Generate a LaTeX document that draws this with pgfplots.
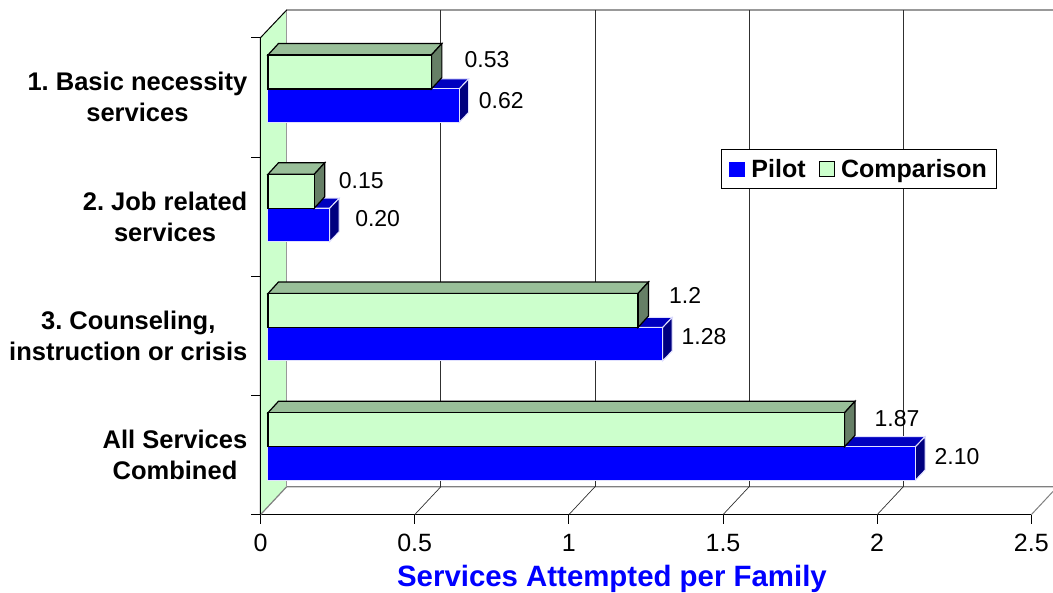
\documentclass[border=0pt]{standalone}
\usepackage{pgfplots}
\usepackage{fontspec}
\setmainfont{Liberation Sans}
\pgfplotsset{compat=1.18}
\frenchspacing
\definecolor{wall}{HTML}{CCFFCC}
\definecolor{cmptop}{HTML}{99BF99}
\definecolor{cmpside}{HTML}{667F66}
\definecolor{pilotfront}{HTML}{0000FF}
\definecolor{pilottop}{HTML}{0000BF}
\definecolor{pilotside}{HTML}{00007F}
\definecolor{pilotedge}{HTML}{E0E0FF}
\definecolor{wallgray}{HTML}{808080}
\definecolor{griddark}{HTML}{303030}
\newcommand\facesc[3]{% value, ylow, yhigh : comparison
  \pgfmathsetmacro\xa{#1+0.034}\pgfmathsetmacro\ya{#3+0.096}\pgfmathsetmacro\yb{#2+0.096}
  \addplot[forget plot,xshift=7.5pt,fill=cmptop,draw=black,line width=1.2pt] coordinates {(0,#3)(0.034,\ya)(\xa,\ya)(#1,#3)} --cycle;
  \addplot[forget plot,xshift=7.5pt,fill=cmpside,draw=black,line width=1.2pt] coordinates {(#1,#3)(\xa,\ya)(\xa,\yb)(#1,#2)} --cycle;
}
\newcommand\facesp[3]{% value, ylow, yhigh : pilot
  \pgfmathsetmacro\xa{#1+0.031}\pgfmathsetmacro\ya{#3+0.084}\pgfmathsetmacro\yb{#2+0.084}
  \addplot[forget plot,xshift=7.5pt,fill=pilottop,draw=pilotedge,line width=1pt] coordinates {(0,#3)(0.031,\ya)(\xa,\ya)(#1,#3)} --cycle;
  \addplot[forget plot,xshift=7.5pt,fill=pilotside,draw=pilotedge,line width=1pt] coordinates {(#1,#3)(\xa,\ya)(\xa,\yb)(#1,#2)} --cycle;
}
\begin{document}
\begin{tikzpicture}
\useasboundingbox (0,0) rectangle (1053pt,593pt);
\begin{axis}[
  at={(260.5pt,78.3pt)},anchor=south west,
  scale only axis,width=770.8pt,height=477pt,
  xmin=0,xmax=2.5,ymin=0,ymax=4,
  clip=false,
  axis lines=left,
  axis line style={-,color=black,line width=1pt},
  tick align=outside,
  /pgf/number format/assume math mode=true,
  xtick={0,0.5,1,1.5,2,2.5},
  xticklabels={0,0.5,1,1.5,2,2.5},
  ytick={0.5,1.5,2.5,3.5},
  minor ytick={0,1,2,3,4},
  yticklabels={{All Services\\Combined},{3. Counseling,\\instruction or crisis},{2. Job related\\services},{1. Basic necessity\\services}},
  major tick length=9pt,
  minor tick length=9pt,
  tick style={black,line width=0.8pt},
  major y tick style={draw=none},
  xticklabel style={font=\fontsize{25}{28}\selectfont,inner sep=0pt,yshift=-10.5pt},
  yticklabel style={font=\fontsize{25.5}{31}\selectfont\bfseries,align=center,inner sep=0pt,xshift=-4pt},
  xlabel={Services Attempted per Family},
  xlabel style={at={(0.456,-0.1345)},anchor=center,font=\fontsize{29.4}{32}\selectfont\bfseries,text=blue,inner sep=0pt},
  legend columns=2,
  legend style={at={(0.7767,0.7245)},anchor=center,draw=black,line width=0.9pt,
    font=\fontsize{25}{28}\selectfont\bfseries,inner xsep=8pt,inner ysep=7.5pt,
    /tikz/column 1/.style={column sep=4pt},
    /tikz/column 2/.style={column sep=11.5pt},
    /tikz/column 3/.style={column sep=4pt}},
]
% side wall
\addplot[forget plot,fill=wall,draw=none] coordinates {(0,0)(0.085,0.2348)(0.085,4.2323)(0,4)} --cycle;
\addplot[forget plot,wallgray,line width=1.2pt] coordinates {(0,0)(0.085,0.2348)(2.5705,0.2348)};
\addplot[forget plot,color=black!40,line width=1.2pt] coordinates {(0.085,0.2348)(0.085,4.2323)(2.5705,4.2323)};
\addplot[forget plot,black,line width=1pt] coordinates {(0,0)(0,4)(0.085,4.2323)};
% back gridlines
\addplot[forget plot,griddark,line width=1pt] coordinates {(0.585,0.2348)(0.585,4.2323)};
\addplot[forget plot,griddark,line width=1pt] coordinates {(1.085,0.2348)(1.085,4.2323)};
\addplot[forget plot,griddark,line width=1pt] coordinates {(1.585,0.2348)(1.585,4.2323)};
\addplot[forget plot,griddark,line width=1pt] coordinates {(2.085,0.2348)(2.085,4.2323)};
% floor gridlines
\addplot[forget plot,griddark,line width=0.7pt] coordinates {(0.5,0)(0.585,0.2348)};
\addplot[forget plot,griddark,line width=0.7pt] coordinates {(1,0)(1.085,0.2348)};
\addplot[forget plot,griddark,line width=0.7pt] coordinates {(1.5,0)(1.585,0.2348)};
\addplot[forget plot,griddark,line width=0.7pt] coordinates {(2,0)(2.085,0.2348)};
\addplot[forget plot,wallgray,line width=1pt] coordinates {(2.5,0)(2.5705,0.195)};
% pilot bars
\facesp{0.62}{3.29}{3.57}
\facesp{0.20}{2.29}{2.57}
\facesp{1.28}{1.29}{1.57}
\facesp{2.10}{0.29}{0.57}
\addplot[xbar,xshift=7.5pt,bar width=33.4pt,fill=pilotfront,draw=pilotedge,line width=1pt,
  legend image code/.code={\fill[pilotfront] (0pt,-7pt) rectangle (15pt,7pt);}]
  coordinates {(2.10,0.43)(1.28,1.43)(0.20,2.43)(0.62,3.43)};
\addlegendentry{Pilot}
% comparison bars
\facesc{0.53}{3.57}{3.855}
\facesc{0.15}{2.57}{2.855}
\facesc{1.20}{1.57}{1.855}
\facesc{1.87}{0.57}{0.855}
\addplot[xbar,xshift=7.5pt,bar width=34pt,fill=wall,draw=black,line width=1.2pt,
  legend image code/.code={\draw[fill=wall,draw=black,line width=1pt] (0pt,-7.5pt) rectangle (15pt,7.5pt);}]
  coordinates {(1.87,0.7125)(1.20,1.7125)(0.15,2.7125)(0.53,3.7125)};
\addlegendentry{Comparison}
% data labels
\node[font=\fontsize{23}{26}\selectfont] at (axis cs:0.7347,3.813) {0.53};
\node[font=\fontsize{23}{26}\selectfont] at (axis cs:0.7811,3.469) {0.62};
\node[font=\fontsize{23}{26}\selectfont] at (axis cs:0.3270,2.798) {0.15};
\node[font=\fontsize{23}{26}\selectfont] at (axis cs:0.3800,2.480) {0.20};
\node[font=\fontsize{23}{26}\selectfont] at (axis cs:1.3770,1.842) {1.2};
\node[font=\fontsize{23}{26}\selectfont] at (axis cs:1.4386,1.490) {1.28};
\node[font=\fontsize{23}{26}\selectfont] at (axis cs:2.0645,0.8025) {1.87};
\node[font=\fontsize{23}{26}\selectfont] at (axis cs:2.2591,0.484) {2.10};
\end{axis}
\end{tikzpicture}
\end{document}
